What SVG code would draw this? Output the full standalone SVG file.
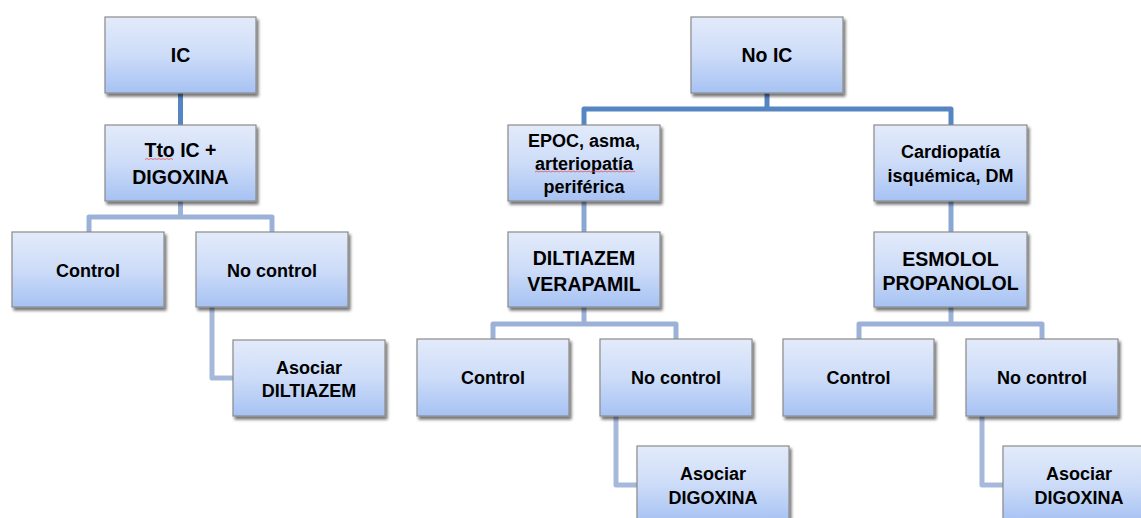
<svg xmlns="http://www.w3.org/2000/svg" width="1141" height="518" viewBox="0 0 1141 518">
<defs>
<linearGradient id="g" x1="0" y1="0" x2="0" y2="1">
<stop offset="0" stop-color="#e3ebfa"/>
<stop offset="0.5" stop-color="#cddcf8"/>
<stop offset="1" stop-color="#a6c2f3"/>
</linearGradient>
<filter id="sh" x="-10%" y="-10%" width="130%" height="140%">
<feGaussianBlur in="SourceAlpha" stdDeviation="1.6"/>
<feOffset dx="1.5" dy="2.5" result="b"/>
<feComponentTransfer><feFuncA type="linear" slope="0.55"/></feComponentTransfer>
<feMerge><feMergeNode/><feMergeNode in="SourceGraphic"/></feMerge>
</filter>
<style>
.box{fill:url(#g);stroke:#8a8a8a;stroke-width:1.2;filter:url(#sh)}
.t{font-family:"Liberation Sans",Arial,sans-serif;font-weight:bold;fill:#000;text-anchor:middle}
.L{font-size:19.5px}
.S{font-size:18px}
.c{fill:none;stroke-width:5;stroke-linejoin:round;stroke-linecap:butt}
.d{stroke:#5585c2}
.m{stroke:#8aa7d3}
.l{stroke:#9bb1d7}
.x{stroke:#a6b9da}
.sq{fill:none;stroke:#e05050;stroke-width:0.8}
</style>
</defs>
<rect width="1141" height="518" fill="#fff"/>
<g id="connectors">
<path class="c d" d="M180.5 93V125"/>
<path class="c l" d="M180.5 201V217M89 232V217H272V232"/>
<path class="c x" d="M212 307V378H234"/>
<path class="c d" d="M767 93V109M584 125V109H951V125"/>
<path class="c m" d="M584 201V232"/>
<path class="c m" d="M951 201V232"/>
<path class="c l" d="M584 307V324M493 339V324H676V339"/>
<path class="c x" d="M616 416V485H638"/>
<path class="c l" d="M951 307V324M859 339V324H1042V339"/>
<path class="c x" d="M982 416V485H1004"/>
</g>
<g id="n-ic"><rect class="box" x="105" y="17" width="151" height="76"/><text class="t L" x="180.5" y="62">IC</text></g>
<g id="n-tto"><rect class="box" x="105" y="125" width="151" height="76"/><text class="t L" x="180.5" y="157">Tto IC +</text><text class="t L" x="180.5" y="184">DIGOXINA</text><path class="sq" d="M145 159.5l2 -1 2 1 2 -1 2 1 2 -1 2 1 2 -1 2 1 2 -1 2 1 2 -1 2 1 2 -1 2 1"/></g>
<g id="n-control1"><rect class="box" x="12" y="232" width="152" height="75"/><text class="t S" x="88" y="277">Control</text></g>
<g id="n-nocontrol1"><rect class="box" x="196" y="232" width="152" height="75"/><text class="t S" x="272" y="277">No control</text></g>
<g id="n-asociar1"><rect class="box" x="233" y="340" width="152" height="76"/><text class="t S" x="309" y="374">Asociar</text><text class="t S" x="309" y="397">DILTIAZEM</text></g>
<g id="n-noic"><rect class="box" x="691" y="17" width="152" height="76"/><text class="t L" x="767" y="62">No IC</text></g>
<g id="n-epoc"><rect class="box" x="508" y="125" width="152" height="76"/><text class="t S" x="584" y="147">EPOC, asma,</text><text class="t S" x="584" y="170">arteriopatía</text><text class="t S" x="584" y="193">periférica</text><path class="sq" d="M535 172l2 -1 2 1 2 -1 2 1 2 -1 2 1 2 -1 2 1 2 -1 2 1 2 -1 2 1 2 -1 2 1 2 -1 2 1 2 -1 2 1 2 -1 2 1 2 -1 2 1 2 -1 2 1 2 -1 2 1 2 -1 2 1 2 -1 2 1 2 -1 2 1 2 -1 2 1 2 -1 2 1 2 -1 2 1 2 -1 2 1 2 -1 2 1 2 -1 2 1 2 -1 2 1 2 -1 2 1 2 -1 2 1"/></g>
<g id="n-cardio"><rect class="box" x="874" y="125" width="153" height="76"/><text class="t S" x="950.5" y="158">Cardiopatía</text><text class="t S" x="950.5" y="182">isquémica, DM</text></g>
<g id="n-dilt"><rect class="box" x="508" y="232" width="152" height="75"/><text class="t L" x="584" y="265">DILTIAZEM</text><text class="t L" x="584" y="291">VERAPAMIL</text></g>
<g id="n-esmolol"><rect class="box" x="874" y="232" width="153" height="75"/><text class="t L" x="950.5" y="266">ESMOLOL</text><text class="t L" x="950.5" y="290">PROPANOLOL</text></g>
<g id="n-control2"><rect class="box" x="417" y="339" width="152" height="77"/><text class="t S" x="493" y="384">Control</text></g>
<g id="n-nocontrol2"><rect class="box" x="600" y="339" width="152" height="77"/><text class="t S" x="676" y="384">No control</text></g>
<g id="n-asociar2"><rect class="box" x="637" y="446" width="152" height="76"/><text class="t S" x="713" y="480">Asociar</text><text class="t S" x="713" y="504">DIGOXINA</text></g>
<g id="n-control3"><rect class="box" x="783" y="339" width="151" height="77"/><text class="t S" x="858.5" y="384">Control</text></g>
<g id="n-nocontrol3"><rect class="box" x="966" y="339" width="152" height="77"/><text class="t S" x="1042" y="384">No control</text></g>
<g id="n-asociar3"><rect class="box" x="1003" y="446" width="152" height="76"/><text class="t S" x="1079" y="480">Asociar</text><text class="t S" x="1079" y="504">DIGOXINA</text></g>
</svg>
